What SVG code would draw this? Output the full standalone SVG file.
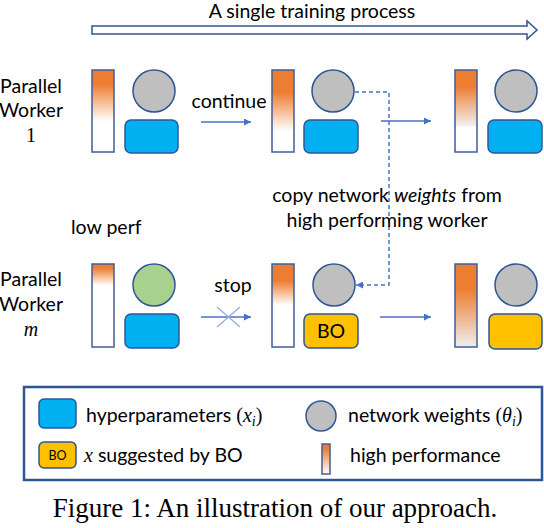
<svg xmlns="http://www.w3.org/2000/svg" width="544" height="528" viewBox="0 0 544 528">
<style>
.t{font-family:Lato,"Open Sans","Liberation Sans",sans-serif;font-size:19.5px;fill:#000}
.m{font-family:"Liberation Serif","DejaVu Serif",serif;font-size:20px;fill:#000}
.sub{font-family:"Liberation Serif","DejaVu Serif",serif;font-size:14px;font-style:italic;fill:#000}
.cap{font-family:"Liberation Serif","Times New Roman",serif;font-size:27px;fill:#000}
.bar{stroke:#3F5E9A;stroke-width:1.5}
.w{fill:#BFBFBF;stroke:#2F5597;stroke-width:1.5}
.g{fill:#A9D18E;stroke:#2F5597;stroke-width:1.5}
.hp{fill:#00B0F0;stroke:#2F5597;stroke-width:1.5}
.bo{fill:#FFC000;stroke:#2F5597;stroke-width:1.5}
.ar{stroke:#4472C4;stroke-width:1.5;fill:none}
</style>
<defs>
<marker id="ah" viewBox="0 0 10 10" refX="10" refY="5" markerWidth="7" markerHeight="7" markerUnits="userSpaceOnUse" orient="auto"><path d="M0,0 L10,5 L0,10 z" fill="#4472C4"/></marker>
<linearGradient id="g1" x1="0" y1="0" x2="0" y2="1"><stop offset="0" stop-color="#ED7D31"/><stop offset="0.17" stop-color="#ED7D31"/><stop offset="0.63" stop-color="#FFFFFF"/><stop offset="1" stop-color="#FFFFFF"/></linearGradient>
<linearGradient id="g2" x1="0" y1="0" x2="0" y2="1"><stop offset="0" stop-color="#ED7D31"/><stop offset="0.27" stop-color="#ED7D31"/><stop offset="0.75" stop-color="#FFFFFF"/><stop offset="1" stop-color="#FFFFFF"/></linearGradient>
<linearGradient id="g3" x1="0" y1="0" x2="0" y2="1"><stop offset="0" stop-color="#ED7D31"/><stop offset="0.2" stop-color="#ED7D31"/><stop offset="0.68" stop-color="#F2F0EE"/><stop offset="0.7" stop-color="#FFFFFF"/><stop offset="1" stop-color="#FFFFFF"/></linearGradient>
<linearGradient id="g4" x1="0" y1="0" x2="0" y2="1"><stop offset="0" stop-color="#ED7D31"/><stop offset="0.05" stop-color="#ED7D31"/><stop offset="0.26" stop-color="#FFFFFF"/><stop offset="1" stop-color="#FFFFFF"/></linearGradient>
<linearGradient id="g5" x1="0" y1="0" x2="0" y2="1"><stop offset="0" stop-color="#ED7D31"/><stop offset="0.2" stop-color="#ED7D31"/><stop offset="0.5" stop-color="#FFFFFF"/><stop offset="1" stop-color="#FFFFFF"/></linearGradient>
<linearGradient id="g6" x1="0" y1="0" x2="0" y2="1"><stop offset="0" stop-color="#ED7D31"/><stop offset="0.3" stop-color="#ED7D31"/><stop offset="1" stop-color="#F0EEEE"/></linearGradient>
<linearGradient id="g7" x1="0" y1="0" x2="0" y2="1"><stop offset="0" stop-color="#ED7D31"/><stop offset="0.15" stop-color="#ED7D31"/><stop offset="1" stop-color="#FFFFFF"/></linearGradient>
</defs>
<rect width="544" height="528" fill="#FFFFFF"/>

<g id="timeline">
<polygon points="92,26 527,26 527,21 537,30 527,39 527,34 92,34" fill="#FFFFFF" stroke="#2F5597" stroke-width="1.5"/>
<text class="t" x="312" y="18" text-anchor="middle">A single training process</text>
</g>

<g id="label-worker1">
<text class="t" x="31" y="93" text-anchor="middle">Parallel</text>
<text class="t" x="31" y="117" text-anchor="middle">Worker</text>
<text class="m" x="31" y="142" text-anchor="middle">1</text>
</g>
<g id="label-workerm">
<text class="t" x="31" y="286" text-anchor="middle">Parallel</text>
<text class="t" x="31" y="311" text-anchor="middle">Worker</text>
<text class="m" x="31" y="336" text-anchor="middle" font-style="italic">m</text>
</g>

<g id="w1-t1">
<rect class="bar" x="92" y="70" width="22" height="82" fill="url(#g1)"/>
<circle class="w" cx="154" cy="91" r="21"/>
<rect class="hp" x="125" y="120" width="53" height="33" rx="6"/>
</g>
<g id="w1-t2">
<rect class="bar" x="272" y="70" width="22" height="82" fill="url(#g2)"/>
<circle class="w" cx="333" cy="91" r="21"/>
<rect class="hp" x="304" y="120" width="54" height="33" rx="6"/>
</g>
<g id="w1-t3">
<rect class="bar" x="455" y="70" width="22" height="82" fill="url(#g3)"/>
<circle class="w" cx="516" cy="91" r="21"/>
<rect class="hp" x="488" y="120" width="54" height="33" rx="6"/>
</g>

<g id="wm-t1">
<text class="t" x="71" y="234">low perf</text>
<rect class="bar" x="92" y="264" width="22" height="83" fill="url(#g4)"/>
<circle class="g" cx="154" cy="285" r="21"/>
<rect class="hp" x="125" y="314" width="54" height="34" rx="6"/>
</g>
<g id="wm-t2">
<rect class="bar" x="272" y="264" width="22" height="83" fill="url(#g5)"/>
<circle class="w" cx="334" cy="285" r="21"/>
<rect class="bo" x="304" y="314" width="54" height="34" rx="6"/>
<text class="t" x="331" y="338" text-anchor="middle">BO</text>
</g>
<g id="wm-t3">
<rect class="bar" x="455" y="264" width="22" height="83" fill="url(#g6)"/>
<circle class="w" cx="516" cy="285" r="21"/>
<rect class="bo" x="489" y="314" width="53" height="35" rx="6"/>
</g>

<g id="connectors">
<line class="ar" x1="201" y1="122" x2="251" y2="122" marker-end="url(#ah)"/>
<text class="t" x="229" y="108" text-anchor="middle">continue</text>
<line class="ar" x1="381" y1="121" x2="431" y2="121" marker-end="url(#ah)"/>
<line class="ar" x1="201" y1="317" x2="251" y2="317" marker-end="url(#ah)"/>
<path d="M217,307 L240,327 M217,327 L240,307" stroke="#8FAADC" stroke-width="1.2" fill="none"/>
<text class="t" x="233" y="292" text-anchor="middle">stop</text>
<line class="ar" x1="380" y1="317" x2="431" y2="317" marker-end="url(#ah)"/>
<path class="ar" d="M355,92 H389 V285 H356" stroke-dasharray="4,3" marker-end="url(#ah)"/>
<text class="t" x="387" y="202" text-anchor="middle">copy network <tspan font-style="italic">weights</tspan> from</text>
<text class="t" x="387" y="227" text-anchor="middle">high performing worker</text>
</g>

<g id="legend">
<rect x="24" y="387" width="518" height="93" fill="#FFFFFF" stroke="#2F5597" stroke-width="2.5"/>
<rect class="hp" x="39" y="399" width="37" height="29" rx="5"/>
<text class="t" x="86" y="422">hyperparameters <tspan class="m">(</tspan><tspan class="m" font-style="italic">x</tspan><tspan class="sub" dy="4">i</tspan><tspan class="m" dy="-4">)</tspan></text>
<circle class="w" cx="321" cy="416" r="15"/>
<text class="t" x="348" y="422">network weights <tspan class="m">(</tspan><tspan class="m" font-style="italic">θ</tspan><tspan class="sub" dy="4">i</tspan><tspan class="m" dy="-4">)</tspan></text>
<rect class="bo" x="39" y="442" width="37" height="26" rx="5"/>
<text class="t" x="57.5" y="460" text-anchor="middle" style="font-size:12.5px">BO</text>
<text class="t" x="84" y="462"><tspan class="m" font-style="italic">x</tspan> suggested by BO</text>
<rect class="bar" x="322" y="444" width="8" height="30" fill="url(#g7)" stroke-width="1.2"/>
<text class="t" x="350" y="462">high performance</text>
</g>

<text class="cap" x="275" y="517" text-anchor="middle">Figure 1: An illustration of our approach.</text>
</svg>
